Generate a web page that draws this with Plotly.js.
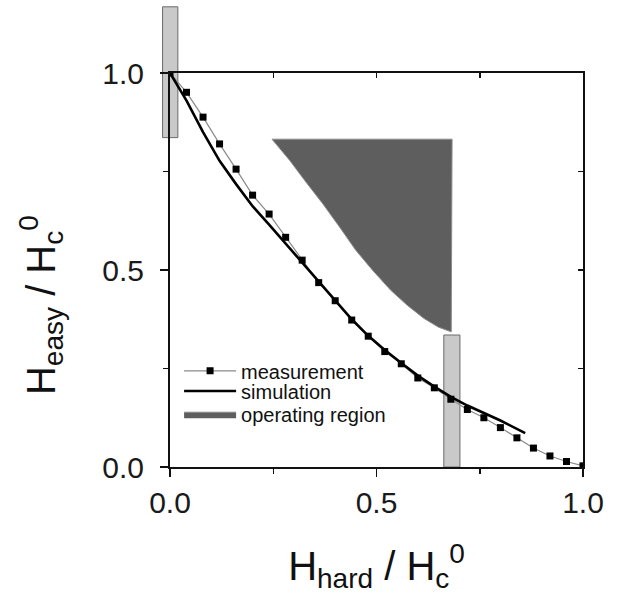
<!DOCTYPE html>
<html>
<head>
<meta charset="utf-8">
<script src="https://cdn.plot.ly/plotly-3.0.1.min.js"></script>
<style>html,body{margin:0;padding:0;background:#fff;}#chart{width:621px;height:603px;}</style>
</head>
<body>
<div id="chart"></div>
<script>
// Measurement (squares)
const measX = [0,0.04,0.08,0.12,0.16,0.20,0.24,0.28,0.32,0.36,0.40,0.44,0.48,0.52,0.56,0.60,0.64,0.68,0.72,0.76,0.80,0.84,0.88,0.92,0.96,1.00];
const measY = [1.0,0.951,0.888,0.820,0.756,0.690,0.642,0.583,0.525,0.468,0.422,0.373,0.332,0.293,0.262,0.226,0.201,0.172,0.146,0.125,0.100,0.074,0.048,0.028,0.014,0.003];
// Simulation (solid line)
const simX = [0,0.04,0.08,0.12,0.16,0.20,0.24,0.28,0.32,0.36,0.40,0.44,0.48,0.52,0.56,0.60,0.64,0.68,0.72,0.76,0.80,0.86];
const simY = [1.0,0.930,0.850,0.777,0.718,0.662,0.615,0.567,0.520,0.471,0.424,0.375,0.333,0.297,0.264,0.232,0.204,0.178,0.156,0.137,0.118,0.086];
// Operating region outline
const regX = [0.247,0.290,0.330,0.370,0.410,0.450,0.490,0.534,0.575,0.615,0.650,0.681,0.683,0.247];
const regY = [0.832,0.778,0.722,0.668,0.610,0.550,0.500,0.449,0.410,0.377,0.355,0.343,0.832,0.832];
// Highlight bars [x0,x1,y0,y1]
const barA = [-0.018,0.019,0.836,1.168];
const barB = [0.663,0.702,0.0,0.335];
const tickVals = [0,0.5,1.0];
const tickText = ['0.0','0.5','1.0'];
const legendNames = ['measurement','simulation','operating region'];

const FONT = 'Liberation Sans, Arial, Helvetica, sans-serif';

const traces = [
  {x: measX, y: measY, name: legendNames[0], type: 'scatter', mode: 'lines+markers', legend: 'legend',
   line: {color: '#8a8a8a', width: 1.2},
   marker: {symbol: 'square', size: 7, color: '#000'}},
  {x: simX, y: simY, name: legendNames[1], type: 'scatter', mode: 'lines', legend: 'legend2',
   line: {color: '#000', width: 2.6}},
  {x: regX, y: regY, name: legendNames[2], type: 'scatter', mode: 'lines', fill: 'toself', legend: 'legend3',
   fillcolor: '#5e5e5e', line: {color: '#8c8c8c', width: 1}},
  // carrier for the top/right frame axes
  {x: [0], y: [0], xaxis: 'x2', yaxis: 'y2', type: 'scatter', mode: 'markers', showlegend: false,
   marker: {size: 1, opacity: 0}, hoverinfo: 'skip'}
];

function rect(b) {
  return {type: 'rect', xref: 'paper', yref: 'paper', x0: b[0], x1: b[1], y0: b[2], y1: b[3],
    fillcolor: '#c9c9c9', line: {color: '#6a6a6a', width: 1}, layer: 'below'};
}

const axisCommon = {
  range: [0, 1], showgrid: false, zeroline: false, showline: true, linecolor: '#111', linewidth: 2,
  ticks: 'outside', ticklen: 8, tickwidth: 1.5, tickcolor: '#111',
  tickvals: tickVals, ticktext: tickText,
  minor: {tickvals: [0.25, 0.75], ticks: 'outside', ticklen: 5, tickwidth: 1.5, tickcolor: '#111'},
  tickfont: {family: FONT, size: 30, color: '#1a1a1a'}, fixedrange: true
};

function leg(yc) {
  return {x: 0.022, y: yc, xanchor: 'left', yanchor: 'middle', bgcolor: 'rgba(0,0,0,0)',
    itemwidth: 52, font: {family: FONT, size: 20, color: '#111'}};
}

const layout = {
  width: 621, height: 603,
  margin: {l: 170, r: 38, t: 73, b: 136},
  paper_bgcolor: '#fff', plot_bgcolor: 'rgba(0,0,0,0)',
  showlegend: true,
  legend: leg(0.244),
  legend2: leg(0.193),
  legend3: leg(0.134),
  xaxis: Object.assign({}, axisCommon, {
    ticklabelstandoff: 0,
    title: {text: 'H<sub>hard</sub> / H<sub>c</sub><sup>0</sup>', standoff: 34,
      font: {family: FONT, size: 40, color: '#111'}}
  }),
  yaxis: Object.assign({}, axisCommon, {ticklabelstandoff: 10}),
  xaxis2: {overlaying: 'x', side: 'top', anchor: 'y2', range: [0, 1], showgrid: false, zeroline: false,
    showline: true, linecolor: '#111', linewidth: 2, ticks: 'inside', ticklen: 5, tickwidth: 1.5, tickcolor: '#111',
    tickvals: [0.25, 0.5, 0.75], showticklabels: false, fixedrange: true},
  yaxis2: {overlaying: 'y', side: 'right', anchor: 'x2', range: [0, 1], showgrid: false, zeroline: false,
    showline: true, linecolor: '#111', linewidth: 2, ticks: 'inside', ticklen: 5, tickwidth: 1.5, tickcolor: '#111',
    tickvals: [0.25, 0.5, 0.75], showticklabels: false, fixedrange: true},
  shapes: [rect(barA), rect(barB)],
  annotations: [
    {text: 'H<sub>easy</sub> / H<sub>c</sub><sup>0</sup>', xref: 'paper', yref: 'paper',
     x: -0.311, y: 0.41, xanchor: 'center', yanchor: 'middle', textangle: -90, showarrow: false,
     font: {family: FONT, size: 40, color: '#111'}}
  ]
};

Plotly.newPlot('chart', traces, layout, {displayModeBar: false, staticPlot: true});
</script>
</body>
</html>
